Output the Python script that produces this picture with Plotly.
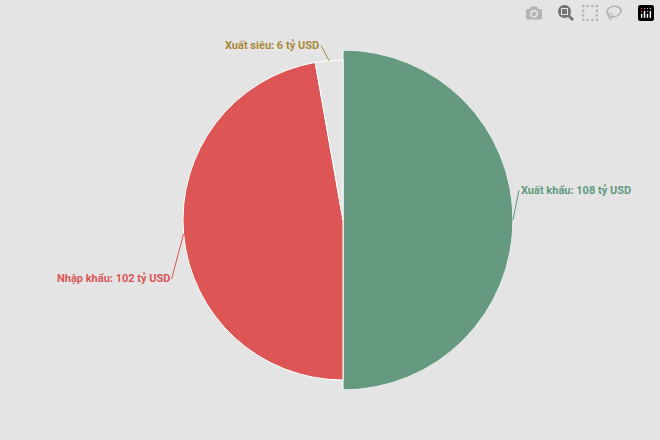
import plotly.graph_objects as go
import math

labels = ["Xuất khẩu", "Nhập khẩu", "Xuất siêu"]
values = [108, 102, 6]
radii = [170, 160, 160]
colors = ["#669a80", "#de5555", "#e4e4e4"]
text_colors = ["#5f9a7f", "#dc5454", "#a8893a"]

total = sum(values)
widths = [v / total * 360 for v in values]
thetas, acc = [], 0
for w in widths:
    thetas.append(acc + w / 2)
    acc += w

W, H = 660, 440
cx, cy, R = 343, 220, 170
fig = go.Figure(go.Barpolar(
    r=radii, theta=thetas, width=widths,
    marker=dict(color=colors, line=dict(color="#ffffff", width=1)),
    hoverinfo="skip"))

offsets = [(6, -30, "left"), (-12, 45, "right"), (-8, -15, "right")]
anns = []
for i, (lab, v) in enumerate(zip(labels, values)):
    ang = math.radians(90 - thetas[i])
    px = cx + radii[i] * math.cos(ang)
    py = cy - radii[i] * math.sin(ang)
    ox, oy, xa = offsets[i]
    anns.append(dict(x=px / W, y=1 - py / H, xref="paper", yref="paper",
                     text=f"<b>{lab}: {v} tỷ USD</b>", showarrow=True, arrowhead=0,
                     arrowwidth=1, arrowcolor=text_colors[i], ax=ox, ay=oy,
                     xanchor=xa, font=dict(color=text_colors[i], size=11, family="Roboto")))

fig.update_layout(
    width=W, height=H, paper_bgcolor="#e4e4e4", plot_bgcolor="#e4e4e4",
    margin=dict(l=0, r=0, t=0, b=0), showlegend=False,
    polar=dict(bgcolor="#e4e4e4",
               domain=dict(x=[(cx - R) / W, (cx + R) / W], y=[1 - (cy + R) / H, 1 - (cy - R) / H]),
               radialaxis=dict(range=[0, R], visible=False),
               angularaxis=dict(visible=False, direction="clockwise", rotation=90)),
    annotations=anns)
fig.write_html("out.html", post_script="document.body.style.margin='0';document.body.style.background='#e4e4e4';")
